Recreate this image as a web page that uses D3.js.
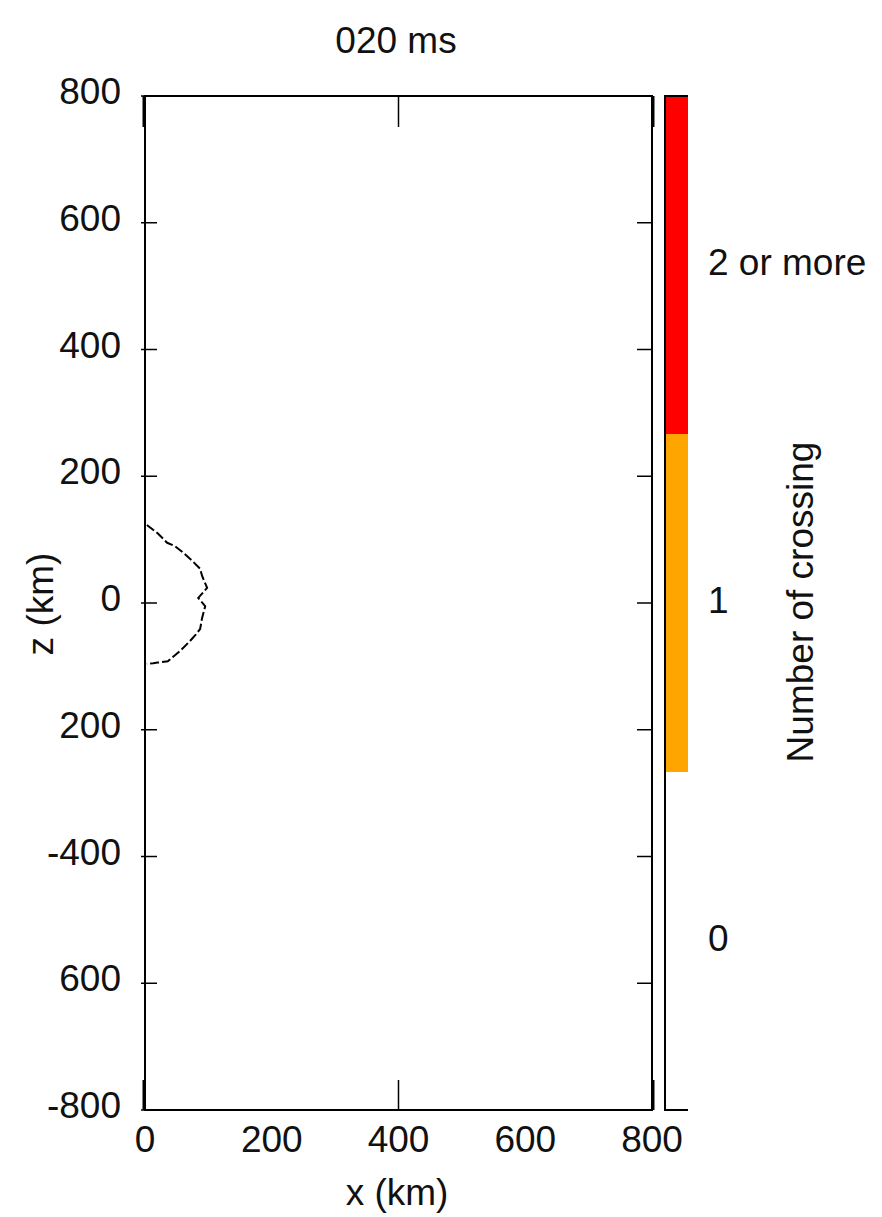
<!DOCTYPE html>
<html>
<head>
<meta charset="utf-8">
<script src="https://cdn.jsdelivr.net/npm/d3@7"></script>
<style>
body { margin: 0; background: #fff; }
text { font-family: "Liberation Sans", Arial, sans-serif; fill: #111; }
</style>
</head>
<body>
<svg width="882" height="1217"></svg>
<script>
// values
var titleText = "020 ms";
var xTicks = [0, 200, 400, 600, 800];
var xTickMarks = [0, 400, 800];
var zTicks = [800, 600, 400, 200, 0, -200, -400, -600, -800];
var zTickLabels = ["800", "600", "400", "200", "0", "200", "-400", "600", "-800"];
var levels = [0, 1, 2];
var levelLabels = ["0", "1", "2 or more"];
var levelColours = ["#ffffff", "#ffa500", "#ff0000"];

// the crossing boundary (x, z in km)
var curveX = [3, 20, 35, 47, 62, 75, 87, 90, 98, 84, 95, 90, 87, 80, 71, 55, 36, 20, 13, 3];
var curveZ = [123, 110, 95, 90, 78, 66, 54, 43, 24, 8, -5, -24, -41, -50, -60, -76, -92, -94, -95, -96];

var svg = d3.select("svg");

var x = d3.scaleLinear().domain([0, 800]).range([145, 652]);
var z = d3.scaleLinear().domain([-800, 800]).range([1110, 96]);
var cb = d3.scaleLinear().domain([-0.5, 2.5]).range([1110, 96]);

// title
svg.append("text")
    .attr("x", 396).attr("y", 53)
    .attr("text-anchor", "middle")
    .style("font-size", "37px")
    .text(titleText);

// plot frame
svg.append("rect")
    .attr("x", x(0)).attr("y", z(800))
    .attr("width", x(800) - x(0)).attr("height", z(-800) - z(800))
    .attr("fill", "none").attr("stroke", "#000").attr("stroke-width", 2);

// boundary curve
var line = d3.line()
    .x(function (d) { return x(d[0]); })
    .y(function (d) { return z(d[1]); })
    .curve(d3.curveLinear);

svg.append("path")
    .datum(d3.zip(curveX, curveZ))
    .attr("d", line)
    .attr("fill", "none")
    .attr("stroke", "#000")
    .attr("stroke-width", 2)
    .attr("stroke-dasharray", "9 3");

// x tick marks (bottom and top, inner)
var ticks = svg.append("g").attr("stroke", "#000");
xTickMarks.forEach(function (v) {
    var w = (v == 0 || v == 800) ? 3 : 1.5;
    var dx = v == 0 ? -1 : (v == 800 ? 1 : 0);
    ticks.append("line")
        .attr("x1", x(v) + dx).attr("x2", x(v) + dx)
        .attr("y1", z(-800)).attr("y2", z(-800) - 30)
        .attr("stroke-width", w);
    ticks.append("line")
        .attr("x1", x(v) + dx).attr("x2", x(v) + dx)
        .attr("y1", z(800)).attr("y2", z(800) + 31)
        .attr("stroke-width", w);
});

// z tick marks (left and right)
zTicks.forEach(function (v) {
    ticks.append("line")
        .attr("x1", x(0) - 4).attr("x2", x(0) + 12)
        .attr("y1", z(v)).attr("y2", z(v))
        .attr("stroke-width", 1.5);
    ticks.append("line")
        .attr("x1", x(800) - 15).attr("x2", x(800))
        .attr("y1", z(v)).attr("y2", z(v))
        .attr("stroke-width", 1.5);
});

// x tick labels
svg.append("g").selectAll("text")
    .data(xTicks)
    .enter().append("text")
    .attr("x", function (d) { return x(d); })
    .attr("y", 1152)
    .attr("text-anchor", "middle")
    .style("font-size", "37px")
    .text(function (d) { return d; });

// z tick labels
svg.append("g").selectAll("text")
    .data(zTicks)
    .enter().append("text")
    .attr("x", 121)
    .attr("y", function (d) { return z(d) + 8; })
    .attr("text-anchor", "end")
    .style("font-size", "37px")
    .text(function (d, i) { return zTickLabels[i]; });

// axis titles
svg.append("text")
    .attr("x", 397).attr("y", 1205)
    .attr("text-anchor", "middle")
    .style("font-size", "37px")
    .text("x (km)");

svg.append("text")
    .attr("transform", "translate(53,604) rotate(-90)")
    .attr("text-anchor", "middle")
    .style("font-size", "37px")
    .text("z (km)");

// colour bar
var bar = svg.append("g");
bar.selectAll("rect")
    .data(levels)
    .enter().append("rect")
    .attr("x", 666)
    .attr("y", function (d) { return cb(d + 0.5); })
    .attr("width", 22)
    .attr("height", function (d) { return cb(d - 0.5) - cb(d + 0.5); })
    .attr("fill", function (d, i) { return levelColours[i]; });

bar.append("path")
    .attr("d", "M688," + cb(2.5) + "H665V" + cb(-0.5) + "H688")
    .attr("fill", "none")
    .attr("stroke", "#000")
    .attr("stroke-width", 2);

bar.selectAll("text")
    .data(levels)
    .enter().append("text")
    .attr("x", 708)
    .attr("y", function (d) { return cb(d) + 10; })
    .style("font-size", "37px")
    .text(function (d, i) { return levelLabels[i]; });

svg.append("text")
    .attr("transform", "translate(813,602) rotate(-90)")
    .attr("text-anchor", "middle")
    .style("font-size", "37px")
    .text("Number of crossing");
</script>
</body>
</html>
